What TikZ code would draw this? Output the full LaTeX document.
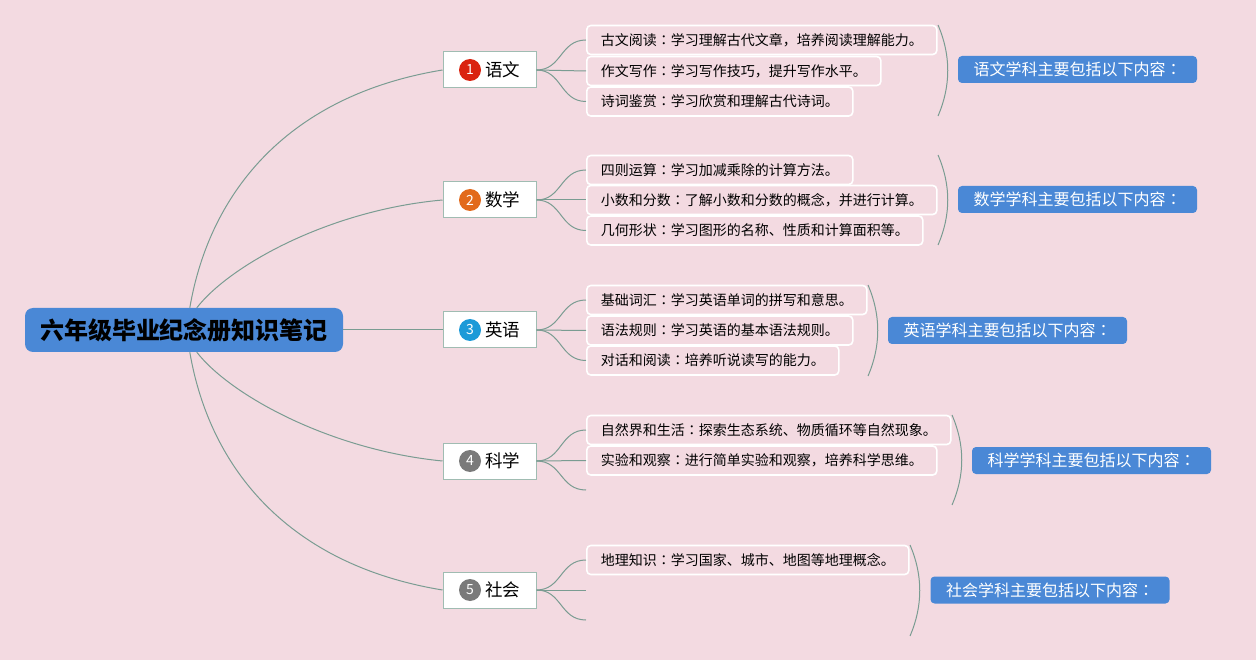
\documentclass[tikz,border=0pt]{standalone}
\usepackage{fontspec}
\newfontfamily\cjk{Noto Sans CJK SC}
\newfontfamily\cjkjp{Noto Sans CJK JP}
\newcommand{\cc}{{\cjkjp ：}}
\definecolor{bgpink}{RGB}{243,218,225}
\definecolor{mainblue}{RGB}{74,136,214}
\definecolor{linegreen}{RGB}{122,156,146}
\definecolor{subborder}{RGB}{160,188,178}
\definecolor{cred}{RGB}{218,35,16}
\definecolor{corange}{RGB}{226,106,28}
\definecolor{cblue}{RGB}{28,154,216}
\definecolor{cgray}{RGB}{122,122,122}
\tikzset{
  conn/.style={draw=linegreen, line width=1pt},
  subbox/.style={draw=subborder, fill=white, line width=1pt, minimum width=93pt, minimum height=36pt, inner sep=0pt},
  numdot/.style={circle, inner sep=0pt, minimum size=22pt, text=white, font=\cjk\fontsize{14}{14}\selectfont},
  subtext/.style={anchor=west, inner sep=0pt, font=\cjk\fontsize{17.5}{18}\selectfont},
  leaf/.style={anchor=west, draw=white, line width=1.6pt, fill=bgpink, rounded corners=4pt, inner xsep=14pt, inner ysep=0pt, minimum height=29pt, font=\cjk\fontsize{14}{14}\selectfont},
  summary/.style={fill=mainblue, rounded corners=4pt, minimum width=239pt, minimum height=27pt, inner sep=0pt, text=white, font=\cjk\fontsize{16}{16}\selectfont},
  brace/.style={draw=linegreen, line width=1pt}
}
\begin{document}
\begin{tikzpicture}[x=1pt,y=-1pt]
\fill[bgpink] (0,0) rectangle (1256,660);
\useasboundingbox (0,0) rectangle (1256,660);

% root
\node[fill=mainblue, rounded corners=8pt, minimum width=318pt, minimum height=44pt, inner sep=0pt, font=\cjk\bfseries\fontsize{24}{25}\selectfont] (root) at (184,330) {六年级毕业纪念册知识笔记};

% subjects
\node[subbox] (s1) at (489.5,70) {};
\node[subbox] (s2) at (489.5,200) {};
\node[subbox] (s3) at (489.5,330) {};
\node[subbox] (s4) at (489.5,461) {};
\node[subbox] (s5) at (489.5,590) {};
\node[numdot, fill=cred] (n1) at (470,70) {1};
\node[numdot, fill=corange] (n2) at (470,200) {2};
\node[numdot, fill=cblue] (n3) at (470,330) {3};
\node[numdot, fill=cgray] (n4) at (470,461) {4};
\node[numdot, fill=cgray] (n5) at (470,590) {5};
\node[subtext] (t1) at (485,70) {语文};
\node[subtext] (t2) at (485,200) {数学};
\node[subtext] (t3) at (485,330) {英语};
\node[subtext] (t4) at (485,461) {科学};
\node[subtext] (t5) at (485,590) {社会};

% root connectors
\draw[conn] (root.north west) ++(165,0) coordinate (r1) .. controls (210,190) and (290,95) .. (s1.west);
\draw[conn] (root.north west) ++(172,0) coordinate (r2) .. controls (230,265) and (330,210) .. (s2.west);
\draw[conn] (root.east) -- (s3.west);
\draw[conn] (root.south west) ++(172,0) coordinate (r4) .. controls (230,395) and (330,450) .. (s4.west);
\draw[conn] (root.south west) ++(165,0) coordinate (r5) .. controls (210,470) and (290,565) .. (s5.west);

% leaves
\node[leaf] (l11) at (586,40) {古文阅读\cc 学习理解古代文章，培养阅读理解能力。};
\node[leaf] (l12) at (586,71) {作文写作\cc 学习写作技巧，提升写作水平。};
\node[leaf] (l13) at (586,101.5) {诗词鉴赏\cc 学习欣赏和理解古代诗词。};
\node[leaf] (l21) at (586,170) {四则运算\cc 学习加减乘除的计算方法。};
\node[leaf] (l22) at (586,200) {小数和分数\cc 了解小数和分数的概念，并进行计算。};
\node[leaf] (l23) at (586,230.5) {几何形状\cc 学习图形的名称、性质和计算面积等。};
\node[leaf] (l31) at (586,300) {基础词汇\cc 学习英语单词的拼写和意思。};
\node[leaf] (l32) at (586,330.5) {语法规则\cc 学习英语的基本语法规则。};
\node[leaf] (l33) at (586,360.5) {对话和阅读\cc 培养听说读写的能力。};
\node[leaf] (l41) at (586,430) {自然界和生活\cc 探索生态系统、物质循环等自然现象。};
\node[leaf] (l42) at (586,460.5) {实验和观察\cc 进行简单实验和观察，培养科学思维。};
\coordinate (l43) at (586,490);
\node[leaf] (l51) at (586,560) {地理知识\cc 学习国家、城市、地图等地理概念。};
\coordinate (l52) at (586,590);
\coordinate (l53) at (586,620);

% subject -> leaf connectors
\draw[conn] (s1.east) .. controls (562,70) and (560,40) .. (l11.west);
\draw[conn] (s1.east) -- (l12.west);
\draw[conn] (s1.east) .. controls (562,70) and (560,101.5) .. (l13.west);
\draw[conn] (s2.east) .. controls (562,200) and (560,170) .. (l21.west);
\draw[conn] (s2.east) -- (l22.west);
\draw[conn] (s2.east) .. controls (562,200) and (560,230.5) .. (l23.west);
\draw[conn] (s3.east) .. controls (562,330) and (560,300) .. (l31.west);
\draw[conn] (s3.east) -- (l32.west);
\draw[conn] (s3.east) .. controls (562,330) and (560,360.5) .. (l33.west);
\draw[conn] (s4.east) .. controls (562,461) and (560,430) .. (l41.west);
\draw[conn] (s4.east) -- (l42.west);
\draw[conn] (s4.east) .. controls (562,461) and (560,490) .. (l43);
\draw[conn] (s5.east) .. controls (562,590) and (560,560) .. (l51.west);
\draw[conn] (s5.east) -- (l52);
\draw[conn] (s5.east) .. controls (562,590) and (560,620) .. (l53);

% braces
\coordinate (b1a) at (938,25); \coordinate (b1b) at (938,116);
\coordinate (b2a) at (938,155); \coordinate (b2b) at (938,245);
\coordinate (b3a) at (868,285); \coordinate (b3b) at (868,376);
\coordinate (b4a) at (952,415); \coordinate (b4b) at (952,505);
\coordinate (b5a) at (910,545); \coordinate (b5b) at (910,636);
\draw[brace] (b1a) .. controls (951,55) and (951,86) .. (b1b);
\draw[brace] (b2a) .. controls (951,185) and (951,215) .. (b2b);
\draw[brace] (b3a) .. controls (881,315) and (881,346) .. (b3b);
\draw[brace] (b4a) .. controls (965,445) and (965,475) .. (b4b);
\draw[brace] (b5a) .. controls (923,575) and (923,606) .. (b5b);

% summaries
\node[summary] (m1) at (1077.5,69.5) {语文学科主要包括以下内容\cc};
\node[summary] (m2) at (1077.5,199.5) {数学学科主要包括以下内容\cc};
\node[summary] (m3) at (1007.5,330.5) {英语学科主要包括以下内容\cc};
\node[summary] (m4) at (1091.5,460.5) {科学学科主要包括以下内容\cc};
\node[summary] (m5) at (1050,590) {社会学科主要包括以下内容\cc};
\end{tikzpicture}
\end{document}
